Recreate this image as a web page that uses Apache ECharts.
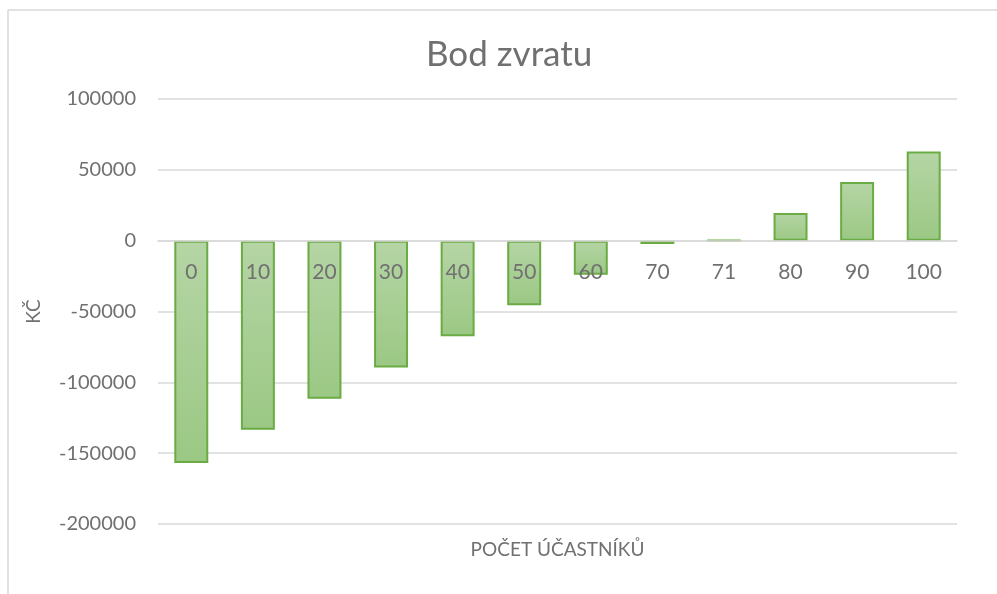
<!DOCTYPE html>
<html>
<head>
<meta charset="utf-8">
<script src="https://cdn.jsdelivr.net/npm/echarts@6/dist/echarts.min.js"></script>
<style>html,body{margin:0;padding:0;background:#fff;}#c{width:997px;height:594px;}</style>
</head>
<body>
<div id="c"></div>
<script>
const categories = ['0','10','20','30','40','50','60','70','71','80','90','100'];
const values = [-157000, -133500, -111500, -89500, -67500, -45500, -24000, -2300, 300, 19500, 41500, 63000];
const yTicks = { min: -200000, max: 100000, interval: 50000 };
const titleText = 'Bod zvratu';
const xName = 'POČET ÚČASTNÍKŮ';
const yName = 'KČ';

const FONT = 'Lato, "Open Sans", sans-serif';
const TXT = '#707070';
const GRID = { left: 158, right: 40, top: 99, bottom: 70 };
const chart = echarts.init(document.getElementById('c'));
// place category axis at the value-axis zero line (as in the reference)
const plotH = 594 - GRID.top - GRID.bottom;
const zeroFromBottom = plotH * (0 - yTicks.min) / (yTicks.max - yTicks.min);
chart.setOption({
  animation: false,
  backgroundColor: '#fff',
  title: {
    text: titleText, left: 421, top: 32,
    textStyle: { fontFamily: FONT, fontSize: 35, fontWeight: 'normal', color: TXT }
  },
  grid: Object.assign({ containLabel: false, outerBoundsMode: 'none' }, GRID),
  xAxis: {
    type: 'category', data: categories, z: 10,
    offset: -zeroFromBottom,
    axisLine: { show: true, onZero: false, lineStyle: { color: '#d9d9d9', width: 1.5 } },
    axisTick: { show: false },
    axisLabel: { color: TXT, fontFamily: FONT, fontSize: 21, margin: 21 },
    name: xName, nameLocation: 'middle', nameGap: 300,
    nameTextStyle: { color: TXT, fontFamily: FONT, fontSize: 19 }
  },
  yAxis: {
    type: 'value', min: yTicks.min, max: yTicks.max, interval: yTicks.interval,
    axisLine: { show: false }, axisTick: { show: false },
    splitLine: { lineStyle: { color: '#d9d9d9', width: 1.5 } },
    axisLabel: { color: TXT, fontFamily: FONT, fontSize: 20, margin: 22, formatter: v => String(v) },
    name: yName, nameLocation: 'middle', nameGap: 115, nameRotate: 90,
    nameTextStyle: { color: TXT, fontFamily: FONT, fontSize: 19 }
  },
  series: [{
    type: 'bar', data: values, barWidth: '51%', z: 2,
    itemStyle: {
      color: new echarts.graphic.LinearGradient(0, 0, 0, 1, [
        { offset: 0, color: '#b5d5a5' }, { offset: 1, color: '#9bc884' }
      ]),
      borderColor: '#6aab43', borderWidth: 2
    }
  }],
  graphic: [
    { type: 'line', shape: { x1: 8, y1: 10, x2: 997, y2: 10 }, style: { stroke: '#d9d9d9', lineWidth: 1.5 } },
    { type: 'line', shape: { x1: 8, y1: 10, x2: 8, y2: 594 }, style: { stroke: '#d9d9d9', lineWidth: 1.5 } }
  ]
});
</script>
</body>
</html>
